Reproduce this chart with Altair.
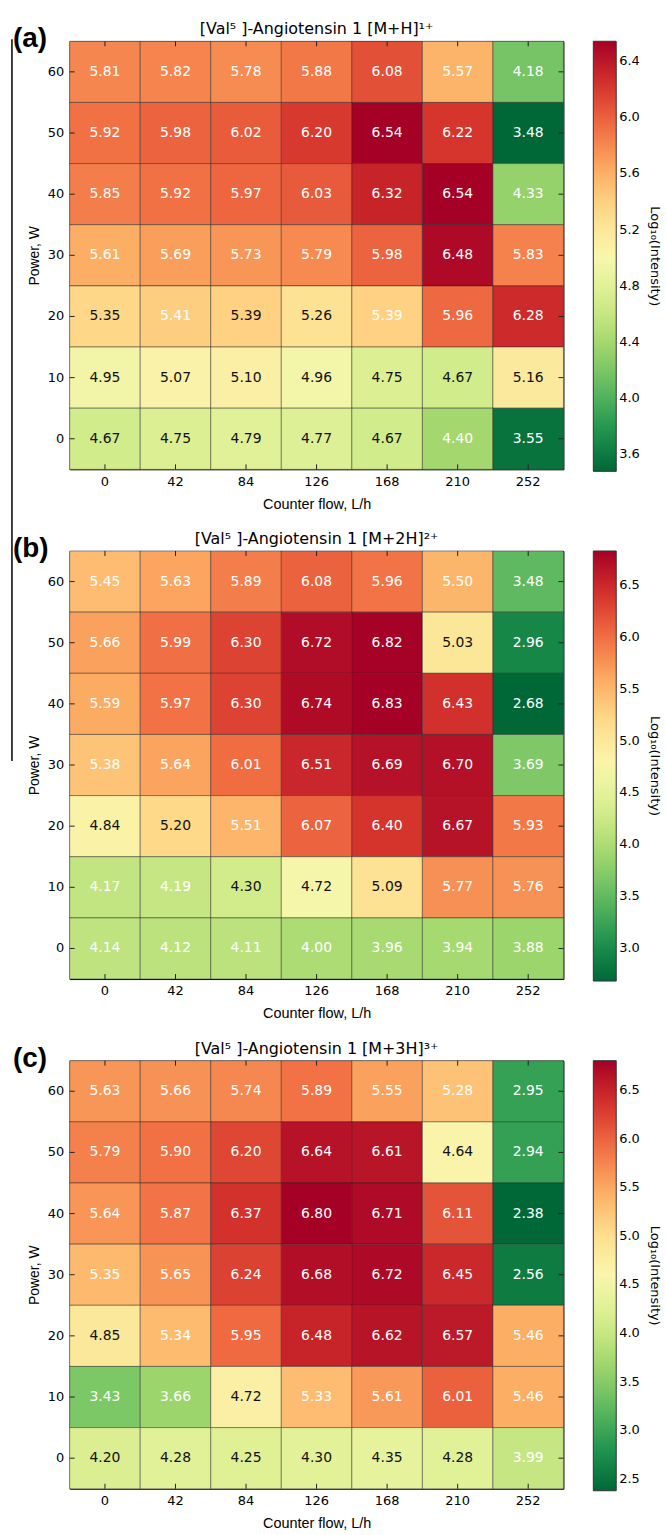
import altair as alt
import pandas as pd

flows = [0, 42, 84, 126, 168, 210, 252]
powers = [60, 50, 40, 30, 20, 10, 0]

vals_a = [
    [5.81, 5.82, 5.78, 5.88, 6.08, 5.57, 4.18],
    [5.92, 5.98, 6.02, 6.20, 6.54, 6.22, 3.48],
    [5.85, 5.92, 5.97, 6.03, 6.32, 6.54, 4.33],
    [5.61, 5.69, 5.73, 5.79, 5.98, 6.48, 5.83],
    [5.35, 5.41, 5.39, 5.26, 5.39, 5.96, 6.28],
    [4.95, 5.07, 5.10, 4.96, 4.75, 4.67, 5.16],
    [4.67, 4.75, 4.79, 4.77, 4.67, 4.40, 3.55],
]
vals_b = [
    [5.45, 5.63, 5.89, 6.08, 5.96, 5.50, 3.48],
    [5.66, 5.99, 6.30, 6.72, 6.82, 5.03, 2.96],
    [5.59, 5.97, 6.30, 6.74, 6.83, 6.43, 2.68],
    [5.38, 5.64, 6.01, 6.51, 6.69, 6.70, 3.69],
    [4.84, 5.20, 5.51, 6.07, 6.40, 6.67, 5.93],
    [4.17, 4.19, 4.30, 4.72, 5.09, 5.77, 5.76],
    [4.14, 4.12, 4.11, 4.00, 3.96, 3.94, 3.88],
]
vals_c = [
    [5.63, 5.66, 5.74, 5.89, 5.55, 5.28, 2.95],
    [5.79, 5.90, 6.20, 6.64, 6.61, 4.64, 2.94],
    [5.64, 5.87, 6.37, 6.80, 6.71, 6.11, 2.38],
    [5.35, 5.65, 6.24, 6.68, 6.72, 6.45, 2.56],
    [4.85, 5.34, 5.95, 6.48, 6.62, 6.57, 5.46],
    [3.43, 3.66, 4.72, 5.33, 5.61, 6.01, 5.46],
    [4.20, 4.28, 4.25, 4.30, 4.35, 4.28, 3.99],
]

# 1 = label printed in black, 0 = label printed in white
dark_a = [
    [0, 0, 0, 0, 0, 0, 0],
    [0, 0, 0, 0, 0, 0, 0],
    [0, 0, 0, 0, 0, 0, 0],
    [0, 0, 0, 0, 0, 0, 0],
    [1, 0, 1, 1, 0, 0, 0],
    [1, 1, 1, 1, 1, 1, 1],
    [1, 1, 1, 1, 1, 0, 0],
]
dark_b = [
    [0, 0, 0, 0, 0, 0, 0],
    [0, 0, 0, 0, 0, 1, 0],
    [0, 0, 0, 0, 0, 0, 0],
    [0, 0, 0, 0, 0, 0, 0],
    [1, 1, 0, 0, 0, 0, 0],
    [0, 0, 1, 1, 1, 0, 0],
    [0, 0, 0, 0, 0, 0, 0],
]
dark_c = [
    [0, 0, 0, 0, 0, 0, 0],
    [0, 0, 0, 0, 0, 1, 0],
    [0, 0, 0, 0, 0, 0, 0],
    [0, 0, 0, 0, 0, 0, 0],
    [1, 0, 0, 0, 0, 0, 0],
    [0, 0, 1, 0, 0, 0, 0],
    [1, 1, 1, 1, 1, 1, 0],
]

titles = [
    "[Val\u2075 ]-Angiotensin 1 [M+H]\u00b9\u207a",
    "[Val\u2075 ]-Angiotensin 1 [M+2H]\u00b2\u207a",
    "[Val\u2075 ]-Angiotensin 1 [M+3H]\u00b3\u207a",
]
panel_labels = ["(a)", "(b)", "(c)"]
cbar_ticks = [
    [3.6, 4.0, 4.4, 4.8, 5.2, 5.6, 6.0, 6.4],
    [3.0, 3.5, 4.0, 4.5, 5.0, 5.5, 6.0, 6.5],
    [2.5, 3.0, 3.5, 4.0, 4.5, 5.0, 5.5, 6.0, 6.5],
]
x_title = "Counter flow, L/h"
y_title = "Power, W"
cbar_title = "Log\u2081\u2080(Intensity)"

W, H = 496, 430
NUM_FONT = "DejaVu Sans"
LAB_FONT = "Liberation Sans"


def panel(vals, dark, title, label, ticks, side_line=False):
    rows = []
    for i, p in enumerate(powers):
        for j, f in enumerate(flows):
            rows.append({"flow": f, "power": p, "v": vals[i][j], "dark": dark[i][j]})
    df = pd.DataFrame(rows)
    vmin, vmax = float(df.v.min()), float(df.v.max())

    xs = alt.Scale(paddingInner=0, paddingOuter=0)
    ys = alt.Scale(paddingInner=0, paddingOuter=0)
    x_axis = alt.Axis(title=x_title, labelAngle=0, ticks=False, domain=False,
                      labelPadding=6, titlePadding=9, labelFontSize=13,
                      labelFont=NUM_FONT, titleFont=LAB_FONT, titleFontSize=14.5,
                      titleFontWeight="normal", labelColor="black", titleColor="black")
    y_axis = alt.Axis(title=y_title, ticks=False, domain=False,
                      labelPadding=6, titlePadding=6, labelFontSize=13,
                      labelFont=NUM_FONT, titleFont=LAB_FONT, titleFontSize=14,
                      titleFontWeight="normal", labelColor="black", titleColor="black")
    X = alt.X("flow:O", sort=flows, scale=xs, axis=x_axis)
    Y = alt.Y("power:O", sort=powers, scale=ys, axis=y_axis)
    Xn = alt.X("flow:O", sort=flows)
    Yn = alt.Y("power:O", sort=powers)

    base = alt.Chart(df)
    rect = base.mark_rect(stroke="#222222", strokeOpacity=0.45, strokeWidth=1).encode(
        x=X, y=Y,
        color=alt.Color("v:Q",
                        scale=alt.Scale(scheme="redyellowgreen", reverse=True,
                                        domain=[vmin, vmax]),
                        legend=alt.Legend(
                            title=cbar_title, titleOrient="right",
                            titleAnchor="middle",
                            titleFont=NUM_FONT, titleFontSize=13,
                            titleFontWeight="normal", titleColor="black",
                            titlePadding=8,
                            gradientLength=H + 2, gradientThickness=23,
                            gradientStrokeColor="#333333", gradientStrokeWidth=1,
                            values=ticks, format=".1f", labelFont=NUM_FONT,
                            labelFontSize=13, labelColor="black", labelOffset=3,
                            labelOverlap=False, offset=30, padding=0,
                            direction="vertical", orient="right")),
    )
    txt_dark = base.transform_filter("datum.dark == 1").mark_text(
        font=NUM_FONT, fontSize=14, color="#111111").encode(
        x=Xn, y=Yn, text=alt.Text("v:Q", format=".2f"))
    txt_light = base.transform_filter("datum.dark == 0").mark_text(
        font=NUM_FONT, fontSize=14, color="#ffffff").encode(
        x=Xn, y=Yn, text=alt.Text("v:Q", format=".2f"))

    fdf = pd.DataFrame({"flow": flows})
    pdf = pd.DataFrame({"power": powers})
    tick_top = alt.Chart(fdf).mark_rule(color="#222222", strokeWidth=1).encode(
        x=Xn, y=alt.value(0), y2=alt.value(5))
    tick_bot = alt.Chart(fdf).mark_rule(color="#222222", strokeWidth=1).encode(
        x=Xn, y=alt.value(H), y2=alt.value(H - 5))
    tick_left = alt.Chart(pdf).mark_rule(color="#222222", strokeWidth=1).encode(
        y=Yn, x=alt.value(0), x2=alt.value(5))
    tick_right = alt.Chart(pdf).mark_rule(color="#222222", strokeWidth=1).encode(
        y=Yn, x=alt.value(W), x2=alt.value(W - 5))

    lab = alt.Chart(pd.DataFrame({"t": [label]})).mark_text(
        font=LAB_FONT, fontSize=28, fontWeight="bold", align="left",
        baseline="middle", color="black").encode(
        text="t:N", x=alt.value(-57), y=alt.value(-2))
    ttl = alt.Chart(pd.DataFrame({"t": [title]})).mark_text(
        font=NUM_FONT, fontSize=16, align="center", baseline="middle",
        color="black").encode(
        text="t:N", x=alt.value(W / 2), y=alt.value(-12))

    layers = [rect, txt_dark, txt_light, tick_top, tick_bot, tick_left, tick_right,
              ttl, lab]
    if side_line:
        line = alt.Chart(pd.DataFrame({"t": [0]})).mark_rule(
            color="black", strokeWidth=1.5).encode(
            x=alt.value(-58), y=alt.value(-2), y2=alt.value(723))
        layers.append(line)

    return alt.layer(*layers).properties(width=W, height=H)


pa = panel(vals_a, dark_a, titles[0], panel_labels[0], cbar_ticks[0], side_line=True)
pb = panel(vals_b, dark_b, titles[1], panel_labels[1], cbar_ticks[1])
pc = panel(vals_c, dark_c, titles[2], panel_labels[2], cbar_ticks[2])

chart = alt.vconcat(pa, pb, pc, spacing=82, bounds="flush").resolve_scale(
    color="independent", x="independent", y="independent").resolve_legend(
    color="independent").properties(
    padding={"left": 10, "top": 17, "right": 4, "bottom": 2},
    background="white",
).configure_view(stroke="black", strokeWidth=1)

chart.save("out.html", embed_options={"renderer": "svg", "actions": False})
